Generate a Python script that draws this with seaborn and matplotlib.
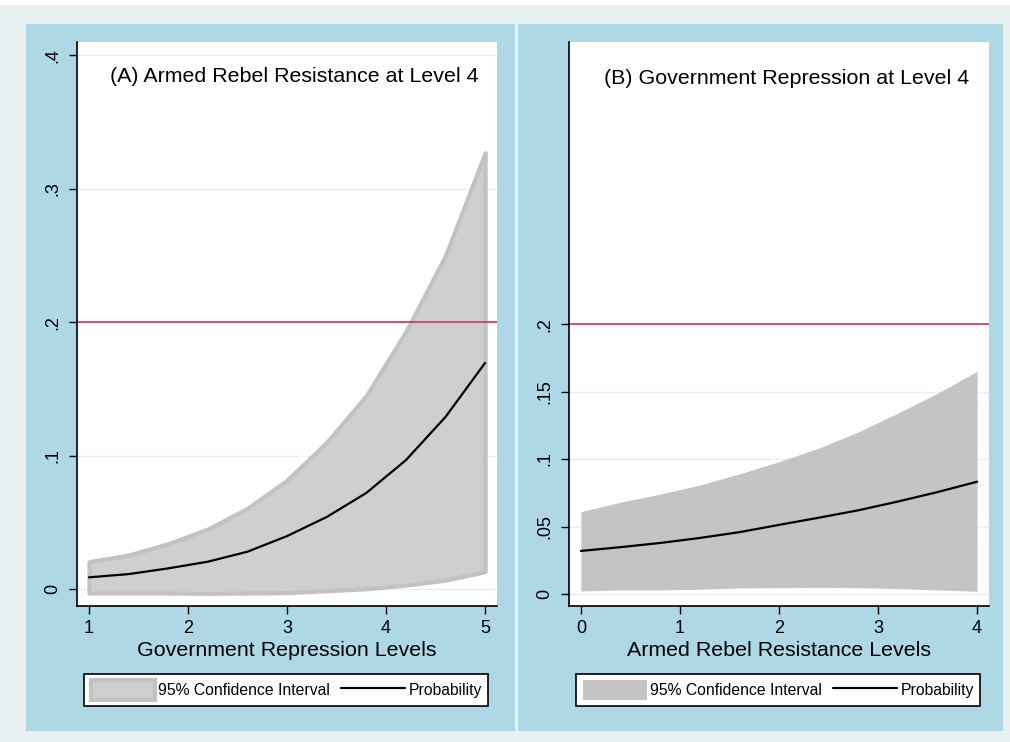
import numpy as np
import pandas as pd
import seaborn as sns
import matplotlib
matplotlib.use("Agg")
import matplotlib.pyplot as plt
from matplotlib.patches import Patch, Rectangle
from matplotlib.lines import Line2D

# Panel A: effect of government repression level on armed rebel resistance (level 4)
repression_levels = [1.0, 1.4, 1.8, 2.2, 2.6, 3.0, 3.4, 3.8, 4.2, 4.6, 5.0]
prob_a = [0.0088, 0.0112, 0.0155, 0.0205, 0.0280, 0.0397, 0.0540, 0.0720, 0.0966, 0.1290, 0.1695]
upper_a = [0.0205, 0.0255, 0.0340, 0.0450, 0.0605, 0.0816, 0.1100, 0.1450, 0.1930, 0.2500, 0.3270]
lower_a = [-0.0030, -0.0030, -0.0030, -0.0032, -0.0030, -0.0027, -0.0012, 0.0002, 0.0030, 0.0067, 0.0130]

# Panel B: effect of armed rebel resistance level on government repression (level 4)
resistance_levels = [0.0, 0.4, 0.8, 1.2, 1.6, 2.0, 2.4, 2.8, 3.2, 3.6, 4.0]
prob_b = [0.0319, 0.0347, 0.0378, 0.0415, 0.0458, 0.0512, 0.0565, 0.0620, 0.0685, 0.0755, 0.0832]
upper_b = [0.0610, 0.0680, 0.0740, 0.0807, 0.0890, 0.0980, 0.1080, 0.1200, 0.1340, 0.1487, 0.1650]
lower_b = [0.0022, 0.0030, 0.0030, 0.0035, 0.0045, 0.0047, 0.0048, 0.0047, 0.0040, 0.0030, 0.0020]

threshold = 0.2

titles = ["(A) Armed Rebel Resistance at Level 4", "(B) Government Repression at Level 4"]
xlabels = ["Government Repression Levels", "Armed Rebel Resistance Levels"]
xticks_a = [1, 2, 3, 4, 5]
xticks_b = [0, 1, 2, 3, 4]
yticks_a = [0, 0.1, 0.2, 0.3, 0.4]
ytick_labels_a = ["0", ".1", ".2", ".3", ".4"]
yticks_b = [0, 0.05, 0.1, 0.15, 0.2]
ytick_labels_b = ["0", ".05", ".1", ".15", ".2"]
legend_labels = ["95% Confidence Interval", "Probability"]

sns.set_style("white")
plt.rcParams["font.family"] = ["Liberation Sans", "DejaVu Sans"]
plt.rcParams["text.color"] = "black"
plt.rcParams["axes.labelcolor"] = "black"
plt.rcParams["xtick.color"] = "black"
plt.rcParams["ytick.color"] = "black"

W, H = 1010, 742
fig = plt.figure(figsize=(W / 100, H / 100), dpi=100)
fig.patch.set_facecolor("#e8f0f2")

def px_rect(x0, y0, x1, y1, color):
    fig.patches.append(Rectangle((x0 / W, 1 - y1 / H), (x1 - x0) / W, (y1 - y0) / H,
                                 transform=fig.transFigure, facecolor=color,
                                 edgecolor="none", zorder=-10))

# page strip and the two blue panel backgrounds
px_rect(0, 0, W, 5, "white")
px_rect(26, 24, 515, 731, "#aed8e5")
px_rect(518, 24, 1003, 731, "#aed8e5")

panel_a = pd.DataFrame({"x": repression_levels, "p": prob_a, "lo": lower_a, "hi": upper_a})
panel_b = pd.DataFrame({"x": resistance_levels, "p": prob_b, "lo": lower_b, "hi": upper_b})

specs = [
    dict(df=panel_a, left=77, xlim=(0.879, 5.12), ylim=(-0.0127, 0.41), xticks=xticks_a,
         yticks=yticks_a, ylabels=ytick_labels_a, fill="#cfcfcf", edge="#c2c2c2", lw=3.0,
         title_y=76),
    dict(df=panel_b, left=569, xlim=(-0.12, 4.12), ylim=(-0.0089, 0.409), xticks=xticks_b,
         yticks=yticks_b, ylabels=ytick_labels_b, fill="#c4c4c4", edge="#c4c4c4", lw=0.0,
         title_y=79),
]

for i, s in enumerate(specs):
    ax = fig.add_axes([s["left"] / W, 1 - 606 / H, 420 / W, 564 / H], zorder=1)
    ax.set_facecolor("white")
    df = s["df"]

    for yv in s["yticks"]:
        ax.axhline(yv, color="#e6f0f0", lw=1.0, zorder=0)

    ax.fill_between(df["x"], df["lo"], df["hi"], facecolor=s["fill"], edgecolor=s["edge"],
                    linewidth=s["lw"], zorder=1)
    sns.lineplot(data=df, x="x", y="p", ax=ax, color="black", lw=1.6, zorder=3,
                 estimator=None, sort=False)
    ax.axhline(threshold, color="#cc3366", lw=1.2, zorder=2)

    ax.set_xlim(*s["xlim"])
    ax.set_ylim(*s["ylim"])
    ax.set_xticks(s["xticks"])
    ax.set_xticklabels([str(v) for v in s["xticks"]], fontsize=13)
    ax.set_yticks(s["yticks"])
    ax.set_yticklabels(s["ylabels"], rotation=90, va="center", fontsize=13)
    ax.tick_params(axis="both", direction="out", length=6, width=1, color="black",
                   labelcolor="black", left=True, bottom=True)
    ax.tick_params(axis="y", pad=5)
    ax.tick_params(axis="x", pad=4)

    for side in ["top", "right"]:
        ax.spines[side].set_visible(False)
    for side in ["left", "bottom"]:
        ax.spines[side].set_color("black")
        ax.spines[side].set_linewidth(1.2)

    ax.set_xlabel(xlabels[i], fontsize=15.4, labelpad=3, color="black")
    ax.set_ylabel("")
    ax.text(0.517, (606 - s["title_y"]) / 564, titles[i], transform=ax.transAxes,
            ha="center", va="center", fontsize=15.4, color="black")

    handles = [Patch(facecolor=s["fill"], edgecolor=s["edge"], linewidth=s["lw"]),
               Line2D([0], [0], color="black", lw=1.6)]
    leg = ax.legend(handles, legend_labels, ncol=2, loc="center",
                    bbox_to_anchor=(0.498, -0.149),
                    fontsize=11.3, frameon=True, fancybox=False, framealpha=1,
                    edgecolor="black", handlelength=4.1, handleheight=1.5,
                    handletextpad=0.2, columnspacing=0.7, borderpad=0.4,
                    borderaxespad=0)
    leg.get_frame().set_linewidth(1.2)
    for t in leg.get_texts():
        t.set_color("black")

fig.savefig("out.png", dpi=100, facecolor=fig.get_facecolor())
